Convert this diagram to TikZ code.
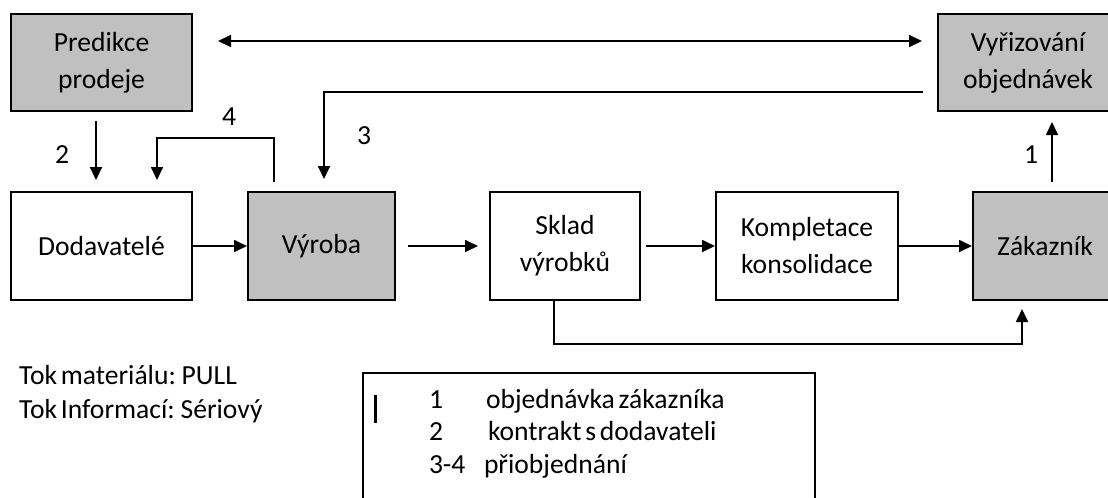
\documentclass[tikz,border=0pt]{standalone}
\usepackage{fontspec}
\setmainfont[WordSpace=0.6]{Carlito}
\usetikzlibrary{arrows.meta}

\definecolor{boxgrey}{RGB}{192,192,192}
\newcommand{\diafont}{\fontsize{20.7}{27.75}\selectfont}

\tikzset{every picture/.style={line width=1.5pt}}
\tikzset{
  whitebox/.style={draw, fill=white, align=center, font=\diafont, inner sep=0pt, minimum height=81pt},
  greybox/.style={whitebox, fill=boxgrey},
  conn/.style={line width=1.3pt, -{Triangle[length=9.75pt,width=9pt]}},
  connboth/.style={line width=1.3pt, {Triangle[length=9.75pt,width=9pt]}-{Triangle[length=9.75pt,width=9pt]}},
  lbl/.style={font=\diafont, inner sep=0pt},
  txt/.style={font=\diafont, inner sep=0pt, anchor=base west}
}

\begin{document}
\begin{tikzpicture}[x=0.75pt,y=0.75pt,yscale=-1,xscale=1]
\useasboundingbox (0,0) rectangle (1108,497);
\clip (0,0) rectangle (1108,497);

% Boxes
\node[greybox, minimum width=135.75pt, minimum height=72.75pt] (pred) at (101.5,62.5) {Predikce\\prodeje};
\node[greybox, minimum width=135pt, minimum height=72.75pt] (vyriz) at (1028,62.5) {Vyřizování\\objednávek};
\node[whitebox, minimum width=135.75pt] (dod) at (101.5,246) {Dodavatelé};
\node[greybox, minimum width=110.25pt] (vyroba) at (321.5,246) {Výroba};
\node[whitebox, minimum width=112.5pt] (sklad) at (565,246) {Sklad\\výrobků};
\node[whitebox, minimum width=136.5pt] (kompl) at (807,246) {Kompletace\\konsolidace};
\node[greybox, minimum width=108pt] (zak) at (1045,246) {Zákazník};

% Material flow
\draw[conn] (dod.east) -- (vyroba.west);
\draw[conn, shorten <=9pt, shorten >=8.25pt] (vyroba.east) -- (sklad.west);
\draw[conn, shorten <=3.75pt] (sklad.east) -- (kompl.west);
\draw[conn] (kompl.east) -- (zak.west);
\draw[conn] ([xshift=-8.25pt]sklad.south) -- ++(0,43) -| ([xshift=-17.25pt,yshift=6pt]zak.south);

% Information flow
\draw[connboth] ([xshift=18.75pt,yshift=-16.125pt]pred.east) -- ([xshift=-11.25pt,yshift=-16.125pt]vyriz.west);
\draw[conn, shorten <=6.75pt, shorten >=7.5pt] ([xshift=5.25pt]zak.north) -- ([xshift=18pt]vyriz.south);
\draw[conn, shorten <=6.75pt, shorten >=8.25pt] ([xshift=-4.125pt]pred.south) -- ([xshift=-4.125pt]dod.north);
\draw[conn] ([xshift=-10.5pt,yshift=22.125pt]vyriz.west) -| ([xshift=1.875pt,yshift=-9pt]vyroba.north);
\draw[conn] ([xshift=-35.625pt,yshift=-6.75pt]vyroba.north) -- ++(0,-44) -| ([xshift=41.625pt,yshift=-8.25pt]dod.north);

% Labels
\node[lbl] (lab1) at (1031,155) {1};
\node[lbl] (lab2) at (62,155) {2};
\node[lbl] (lab3) at (364,136) {3};
\node[lbl] (lab4) at (229,117) {4};

% Notes
\node[txt] (tokmat) at (18,384) {Tok materiálu: PULL};
\node[txt] (tokinf) at (18,418) {Tok Informací: Sériový};

% Legend
\draw (363,373) rectangle (815,520);
\draw[line width=2.25pt] (375,395) -- (375,423);
\node[txt] (num1) at (428,408) {1};
\node[txt] (leg1) at (485,408) {objednávka zákazníka};
\node[txt] (num2) at (428,440) {2};
\node[txt] (leg2) at (487,440) {kontrakt s dodavateli};
\node[txt] (num3) at (428,473) {3-4};
\node[txt] (leg3) at (483,473) {přiobjednání};

\end{tikzpicture}
\end{document}
